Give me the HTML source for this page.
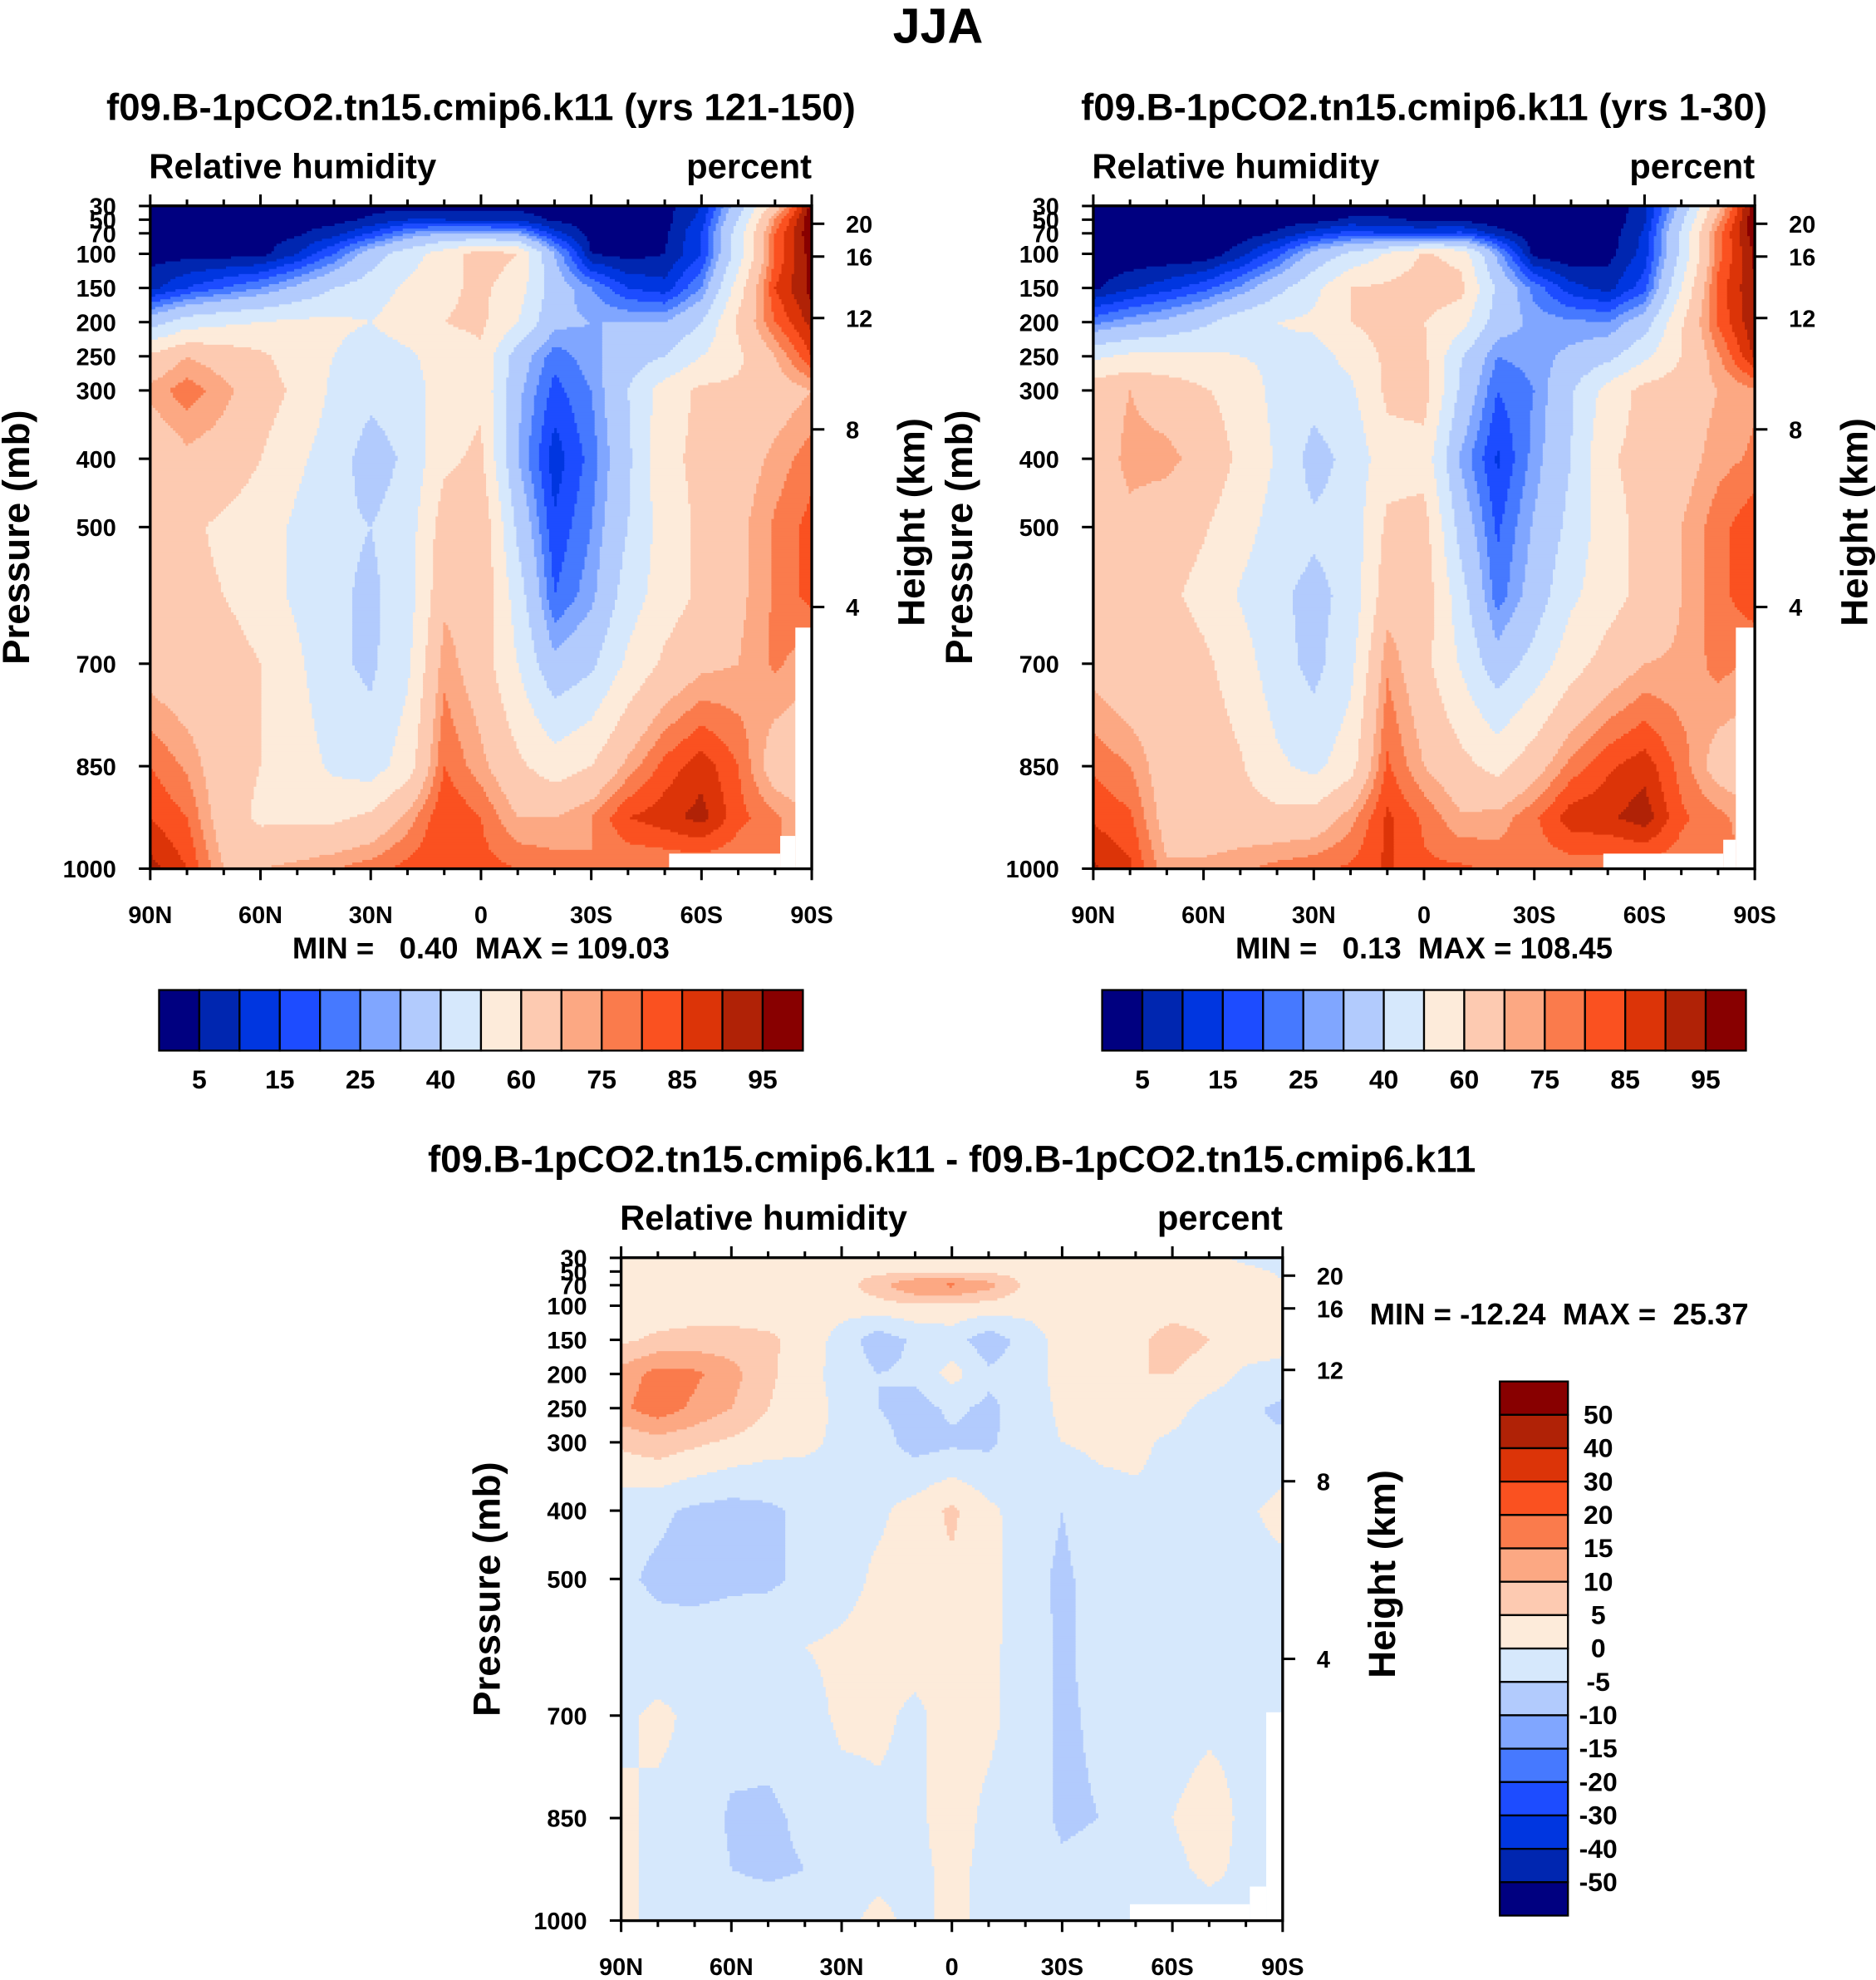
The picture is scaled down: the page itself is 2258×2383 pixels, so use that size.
<!DOCTYPE html>
<html><head><meta charset="utf-8"><style>
html,body{margin:0;padding:0;background:#fff;}
svg{display:block;}
text{font-family:"Liberation Sans",Arial,sans-serif;font-weight:bold;fill:#000;}
</style></head><body>
<svg id="fig" xmlns="http://www.w3.org/2000/svg" width="2258" height="2383" viewBox="0 0 1486 1568" preserveAspectRatio="none">
<text x="743" y="34" font-size="39" text-anchor="middle">JJA</text>
</svg>
<script>
// ---------- data ----------
const latLabels = ["90N","60N","30N","0","30S","60S","90S"];
const pLevels = [30,50,70,100,150,200,250,300,400,500,600,700,850,925,1000];
const pTicks = [30,50,70,100,150,200,250,300,400,500,700,850,1000];
const hTicks = [20,16,12,8,4];
const hTickPressure = [56,104,194,357,617];
const rhLevels = [5,10,15,20,25,30,40,50,60,70,75,80,85,90,95];
const rhLabels = ["5","15","25","40","60","75","85","95"];
const diffLevels = [-50,-40,-30,-20,-15,-10,-5,0,5,10,15,20,30,40,50];
const diffLabels = ["50","40","30","20","15","10","5","0","-5","-10","-15","-20","-30","-40","-50"];
const palette = ["#000080","#0026b0","#0036e0","#1d4cff","#4679ff","#80a6ff","#b2cbfd","#d6e8fc","#fdebda","#fdcab1","#fca883","#fa7b4c","#fa5120","#dc3408","#b02206","#880000"];
const rhA = [
[3,3,3,3,3,3,3,3,3,3,3,3,3,3,3,10,35,65,98],
[3,3,3,3,3,3,6,10,10,8,8,4,3,3,3,12,40,75,100],
[3,3,3,3,4,8,15,25,30,30,28,12,3,3,4,15,45,80,100],
[3,3,3,3,10,20,35,45,55,65,60,30,5,3,5,15,45,80,98],
[8,15,20,25,32,40,45,52,58,62,55,35,25,15,12,25,55,85,97],
[35,45,48,50,52,52,50,55,60,62,50,32,30,30,30,40,62,80,92],
[62,70,66,62,55,50,45,48,55,58,35,22,28,35,40,50,58,70,85],
[72,78,72,65,58,48,43,45,55,58,32,18,25,40,55,62,62,65,70],
[62,68,66,60,52,45,35,42,58,62,30,12,22,38,58,62,65,72,78],
[62,62,58,55,48,42,40,45,65,68,38,16,25,40,55,62,68,76,82],
[62,63,60,55,48,42,38,45,68,68,45,20,28,45,55,62,68,76,82],
[66,63,65,60,52,42,38,48,73,65,50,32,38,52,62,68,70,76,72],
[80,74,64,60,55,48,45,55,80,72,62,55,60,72,82,88,80,65,62],
[85,80,65,58,58,58,62,72,85,80,70,70,75,85,88,92,82,76,70],
[92,85,70,70,72,75,78,82,85,82,80,78,75,75,75,75,75,75,75]];
const rhB = [
[1,1,1,1,1,1,1,1,1,1,1,1,1,1,1,8,32,67,100],
[1,1,1,1,1,2,3,6,6,4,4,1,1,1,1,9,37,73,100],
[1,1,1,1,2,6,12,17,15,14,16,8,1,1,2,11,42,78,99],
[1,1,1,1,8,18,33,42,51,61,57,28,3,1,3,12,42,78,96],
[4,9,13,18,26,37,47,60,62,65,63,38,23,12,8,18,50,82,95],
[23,28,32,38,46,50,52,60,64,60,54,35,28,26,25,35,59,81,94],
[48,52,52,52,50,48,46,53,62,62,41,25,27,32,37,48,60,74,91],
[66,70,66,61,56,47,44,48,62,64,38,20,25,39,54,63,65,70,74],
[65,72,72,67,58,49,36,43,56,56,29,14,27,40,59,63,66,73,76],
[66,68,65,61,54,46,42,44,62,64,36,19,31,43,56,63,70,78,84],
[64,66,62,57,49,42,37,43,66,66,44,22,34,48,56,63,70,78,84],
[67,62,66,62,55,44,37,47,74,63,49,34,44,56,64,70,71,77,74],
[79,75,65,66,61,52,47,56,81,70,63,57,66,77,84,88,78,66,63],
[84,81,66,63,64,63,64,73,86,79,71,72,79,88,89,93,81,77,71],
[91,86,71,72,74,77,79,81,86,81,81,79,77,77,77,77,77,76,76]];
const rhDiff = [
[2,2,2,2,2,2,2,2,2,2,2,2,2,2,2,2,3,-2,-3],
[2,2,2,2,2,1,3,4,4,4,4,3,2,2,2,3,3,2,-1],
[2,2,2,2,2,2,3,8,15,16,12,4,2,2,2,4,3,2,1],
[2,2,2,2,2,2,2,3,4,4,3,2,2,2,2,3,3,2,2],
[4,6,7,7,6,3,-2,-8,-4,-3,-8,-3,2,3,4,7,5,3,2],
[12,17,16,12,6,2,-2,-5,-4,2,-4,-3,2,4,5,5,3,-1,-2],
[14,18,14,10,5,2,-1,-5,-7,-4,-6,-3,1,3,3,2,-2,-4,-6],
[6,8,6,4,2,1,-1,-3,-7,-6,-6,-2,0,1,1,-1,-3,-5,-4],
[-3,-4,-6,-7,-6,-4,-1,-1,2,6,1,-2,-5,-2,-1,-1,-1,-1,2],
[-4,-6,-7,-6,-6,-4,-2,1,3,4,2,-3,-6,-3,-1,-1,-2,-2,-2],
[-2,-3,-2,-2,-1,0,1,2,2,2,1,-2,-6,-3,-1,-1,-2,-2,-2],
[-1,1,-1,-2,-3,-2,1,1,-1,2,1,-2,-6,-4,-2,-2,-1,-1,-2],
[1,-1,-1,-6,-6,-4,-2,-1,-1,2,-1,-2,-6,-5,-2,0,2,-1,-1],
[1,-1,-1,-5,-6,-5,-2,-1,-1,1,-1,-2,-4,-3,-1,-1,1,-1,-1],
[1,-1,-1,-2,-2,-2,-1,1,-1,1,-1,-1,-2,-2,-2,-2,-2,-1,-1]];

// ---------- drawing ----------
const NS="http://www.w3.org/2000/svg";
const fig=document.getElementById('fig');
function mk(tag,attrs,parent){const e=document.createElementNS(NS,tag);for(const k in attrs)e.setAttribute(k,attrs[k]);(parent||fig).appendChild(e);return e;}
function txt(s,attrs,parent){const e=mk('text',attrs,parent);e.textContent=s;return e;}

function drawPanel(px,py,grid,levels,title,masks,name){
  const W=524,H=525;
  const g=mk('g',{});
  
  
  const pyOf=p=>py+38+(p-100)*0.541;
  const xOf=i=>px+i*W/18;
  const fld=mk('g',{},g);
  
  
  const step=2;
  function val(x,y){
    const fi=Math.min(17.9999,Math.max(0,(x-px)/W*18));
    let p=100+(y-(py+38))/0.541; p=Math.min(1000,Math.max(30,p));
    let k=0; while(k<pLevels.length-2 && p>pLevels[k+1]) k++;
    const t=(p-pLevels[k])/(pLevels[k+1]-pLevels[k]);
    const i=Math.floor(fi), u=fi-i;
    const a=grid[k][i]*(1-u)+grid[k][i+1]*u;
    const b=grid[k+1][i]*(1-u)+grid[k+1][i+1]*u;
    return a*(1-t)+b*t;
  }
  function cls(v){let c=0;while(c<levels.length && v>=levels[c])c++;return c;}
  for(let y=py;y<py+H;y+=step){
    let runStart=px, runC=cls(val(px+step/2,y+step/2));
    for(let x=px+step;x<=px+W;x+=step){
      const c = x<px+W ? cls(val(x+step/2,y+step/2)) : -1;
      if(c!==runC){
        const r=mk('rect',{x:runStart,y:y,width:x-runStart+0.6,height:Math.min(step,py+H-y)+0.6,fill:palette[runC]},fld);
        
        
        runStart=x;runC=c;
      }
    }
  }
  masks.forEach(m=>{const r=mk('rect',{x:px+m[0],y:py+m[1],width:m[2],height:m[3],fill:'#fff'},g);
    });
  const fr=mk('rect',{x:px,y:py,width:W,height:H,fill:'none',stroke:'#000','stroke-width':2.2},g);
  
  for(let i=0;i<=18;i++){
    const x=xOf(i), L=(i%3===0)?9:5;
    mk('line',{x1:x,y1:py,x2:x,y2:py-L,stroke:'#000','stroke-width':2},g);
    mk('line',{x1:x,y1:py+H,x2:x,y2:py+H+L,stroke:'#000','stroke-width':2},g);
  }
  latLabels.forEach((s,j)=>{const t=txt(s,{x:xOf(j*3),y:py+H+43,'font-size':19,'text-anchor':'middle'},g);
    });
  pTicks.forEach(p=>{const y=pyOf(p);
    mk('line',{x1:px,y1:y,x2:px-9,y2:y,stroke:'#000','stroke-width':2},g);
    const t=txt(String(p),{x:px-27,y:y+7,'font-size':19,'text-anchor':'end'},g);
    });
  hTicks.forEach((h,j)=>{const y=pyOf(hTickPressure[j]);
    mk('line',{x1:px+W,y1:y,x2:px+W+10,y2:y,stroke:'#000','stroke-width':2},g);
    const t=txt(String(h),{x:px+W+27,y:y+7,'font-size':19},g);
    });
  const yt=txt('Pressure (mb)',{x:0,y:0,'font-size':30,'text-anchor':'middle',transform:`translate(${px-96},${py+H/2}) rotate(-90)`},g);
  
  const ht=txt('Height (km)',{x:0,y:0,'font-size':30,'text-anchor':'middle',transform:`translate(${px+W+89},${py+H/2-12}) rotate(-90)`},g);
  
  const l1=txt('Relative humidity',{x:px-1,y:py-22,'font-size':27.5},g);
  
  const l2=txt('percent',{x:px+W,y:py-22,'font-size':27.5,'text-anchor':'end'},g);
  
  const tt=txt(title,{x:px+W/2,y:py-68,'font-size':30,'text-anchor':'middle'},g);
  
  return g;
}

drawPanel(119,163,rhA,rhLevels,'f09.B-1pCO2.tn15.cmip6.k11 (yrs 121-150)',[[411,513,88,12],[499,499,12,26],[511,334,14,191]],'panel-yrs-121-150');
drawPanel(866,163,rhB,rhLevels,'f09.B-1pCO2.tn15.cmip6.k11 (yrs 1-30)',[[404,513,95,12],[499,502,10,23],[509,334,15,191]],'panel-yrs-1-30');
drawPanel(492,996,rhDiff,diffLevels,'f09.B-1pCO2.tn15.cmip6.k11 - f09.B-1pCO2.tn15.cmip6.k11',[[403,512,95,13],[498,498,13,27],[511,360,13,165]],'panel-difference');

[[381,759,'MIN =   0.40  MAX = 109.03','minmax-panel1','middle'],[1128,759,'MIN =   0.13  MAX = 108.45','minmax-panel2','middle'],[1085,1049,'MIN = -12.24  MAX =  25.37','minmax-diff','start']].forEach(a=>{
  const t=txt(a[2],{x:a[0],y:a[1],'font-size':24,'text-anchor':a[4]});
  t.style.whiteSpace='pre';
  });

function hbar(x0,name){
  const g=mk('g',{});
  const w=510/16;
  palette.forEach((c,i)=>{const r=mk('rect',{x:x0+i*w,y:784,width:w,height:48,fill:c,stroke:'#000','stroke-width':1.5},g);
    });
  rhLabels.forEach((s,j)=>{const t=txt(s,{x:x0+(2*j+1)*w,y:862,'font-size':21,'text-anchor':'middle'},g);
    });
}
hbar(126,'colorbar-panel1');hbar(873,'colorbar-panel2');
(function(){
  const g=mk('g',{});
  const h=(1517-1094)/16;
  for(let i=0;i<16;i++){const r=mk('rect',{x:1188,y:1094+i*h,width:54,height:h,fill:palette[15-i],stroke:'#000','stroke-width':1.5},g);
    }
  diffLabels.forEach((s,j)=>{const t=txt(s,{x:1266,y:1094+(j+1)*h+7,'font-size':21,'text-anchor':'middle'},g);
    });
})();
</script>
</body></html>
